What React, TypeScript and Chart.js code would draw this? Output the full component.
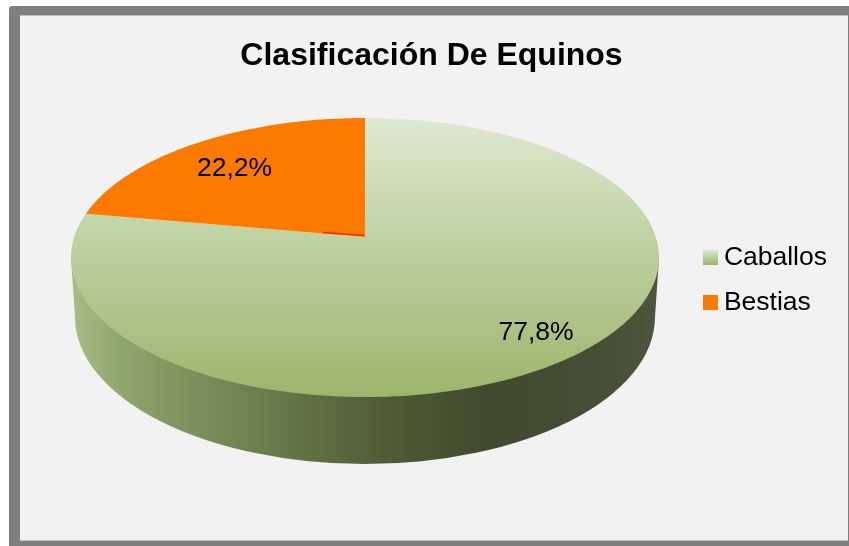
import React, { useEffect, useRef } from "react";
import { Chart, registerables } from "chart.js";

Chart.register(...registerables);

const categories = ["Caballos", "Bestias"];
const shares = [77.8, 22.2];
const shareLabels = ["77,8%", "22,2%"];
const labelRadii = [0.83, 0.724];
const labelAngleShifts = [0, -0.035];
const titleText = "Clasificación De Equinos";

const FONT = "'Liberation Sans', Arial, sans-serif";
const ORANGE = "#fd7a00";
const topStops: [number, string][] = [
  [0, "#dfe9d3"],
  [0.45, "#bdd1a1"],
  [1, "#9bb66c"],
];
const sideStops: [number, string][] = [
  [0, "#a9bd87"],
  [0.08, "#8fa86c"],
  [0.22, "#7a8f5b"],
  [0.4, "#5f7244"],
  [0.55, "#4d5a35"],
  [0.7, "#414a2e"],
  [0.9, "#454f35"],
  [1, "#4d563c"],
];

// projected disc of the pie
const CX = 365;
const APEX_Y = 237;
const A = 290.8;
const B = 136.5;
const K = -0.147;
const project = (r: number, theta: number) => {
  const u = r * Math.cos(theta);
  const v = r * Math.sin(theta);
  const d = 1 + K * v;
  return { x: CX + (A * u) / d, y: APEX_Y + (B * v) / d };
};

const swatch = (fill: (c: CanvasRenderingContext2D) => void) => {
  const c = document.createElement("canvas");
  c.width = 15;
  c.height = 15;
  const g = c.getContext("2d")!;
  fill(g);
  g.fillRect(0, 0, 15, 15);
  return c;
};

const framePlugin = {
  id: "frame",
  beforeDraw(chart: any) {
    const { ctx } = chart;
    ctx.save();
    ctx.fillStyle = "#ffffff";
    ctx.fillRect(0, 0, 849, 546);
    ctx.fillStyle = "#7f7f7f";
    ctx.beginPath();
    ctx.roundRect(9, 6, 850, 550, 3);
    ctx.fill();
    ctx.fillStyle = "#f2f2f2";
    ctx.fillRect(20, 15, 828, 525);
    ctx.strokeStyle = "#bdbdbd";
    ctx.lineWidth = 1;
    ctx.beginPath();
    ctx.moveTo(20, 15.5);
    ctx.lineTo(848, 15.5);
    ctx.moveTo(20, 540.5);
    ctx.lineTo(848, 540.5);
    ctx.stroke();
    ctx.restore();
  },
};

const piePlugin = {
  id: "tiltedPie",
  beforeDatasetsDraw(chart: any) {
    const { ctx } = chart;
    const arcs = chart.getDatasetMeta(0).data;
    ctx.save();

    // rim
    const side = ctx.createLinearGradient(71, 0, 659, 0);
    sideStops.forEach(([o, c]) => side.addColorStop(o, c));
    ctx.fillStyle = side;
    ctx.beginPath();
    ctx.moveTo(659, 258);
    ctx.lineTo(655, 317);
    ctx.ellipse(CX, 317, 290, 147, 0, 0, Math.PI);
    ctx.lineTo(71, 258);
    ctx.closePath();
    ctx.fill();

    // top faces
    arcs.forEach((arc: any, i: number) => {
      const { startAngle, endAngle } = arc.getProps(["startAngle", "endAngle"], true);
      ctx.beginPath();
      const apex = project(0, 0);
      ctx.moveTo(apex.x, apex.y);
      const steps = Math.ceil((endAngle - startAngle) * 90);
      for (let s = 0; s <= steps; s++) {
        const p = project(1, startAngle + ((endAngle - startAngle) * s) / steps);
        ctx.lineTo(p.x, p.y);
      }
      ctx.closePath();
      if (i === 0) {
        const g = ctx.createLinearGradient(0, 118, 0, 397);
        topStops.forEach(([o, c]) => g.addColorStop(o, c));
        ctx.fillStyle = g;
      } else {
        ctx.fillStyle = ORANGE;
      }
      ctx.fill();
    });

    // slice boundary sliver and labels
    const second = arcs[1].getProps(["startAngle", "endAngle"], true);
    const a = project(0, 0);
    const b = project(0.15, second.startAngle);
    ctx.strokeStyle = "#f03000";
    ctx.lineWidth = 1.5;
    ctx.beginPath();
    ctx.moveTo(a.x - 1, a.y - 1.5);
    ctx.lineTo(b.x, b.y - 1);
    ctx.stroke();

    ctx.fillStyle = "#000000";
    ctx.font = `26.5px ${FONT}`;
    ctx.textAlign = "center";
    ctx.textBaseline = "middle";
    arcs.forEach((arc: any, i: number) => {
      const { startAngle, endAngle } = arc.getProps(["startAngle", "endAngle"], true);
      const p = project(labelRadii[i], (startAngle + endAngle) / 2 + labelAngleShifts[i]);
      ctx.fillText(shareLabels[i], p.x, p.y);
    });
    ctx.restore();
    return false;
  },
};

export default function App() {
  const ref = useRef<HTMLCanvasElement>(null);
  useEffect(() => {
    const marks = [
      swatch((g) => {
        const lg = g.createLinearGradient(0, 0, 0, 15);
        lg.addColorStop(0, topStops[0][1]);
        lg.addColorStop(1, topStops[2][1]);
        g.fillStyle = lg;
      }),
      swatch((g) => {
        g.fillStyle = ORANGE;
      }),
    ];
    const chart = new Chart(ref.current!, {
      type: "pie",
      data: {
        labels: categories,
        datasets: [{ data: shares, backgroundColor: ["#b5cb93", ORANGE], borderWidth: 0 }],
      },
      options: {
        responsive: false,
        animation: false,
        layout: { padding: { left: 26, right: 12, top: 20, bottom: 6 } },
        plugins: {
          tooltip: { enabled: false },
          title: {
            display: true,
            text: titleText,
            color: "#000000",
            font: { family: FONT, size: 32, weight: "bold" },
            padding: { top: 17, bottom: 12 },
          },
          legend: {
            display: true,
            position: "right",
            labels: {
              color: "#000000",
              font: { family: FONT, size: 26.5 },
              usePointStyle: true,
              boxWidth: 1,
              padding: 19,
              generateLabels: () =>
                categories.map((text, i) => ({
                  text,
                  pointStyle: marks[i] as any,
                  fillStyle: "transparent",
                  strokeStyle: "transparent",
                  lineWidth: 0,
                  hidden: false,
                  index: i,
                })),
            },
          },
        },
      },
      plugins: [framePlugin, piePlugin],
    } as any);
    return () => chart.destroy();
  }, []);
  return (
    <canvas
      ref={ref}
      width={849}
      height={546}
      style={{ position: "fixed", left: 0, top: 0, display: "block" }}
    />
  );
}
